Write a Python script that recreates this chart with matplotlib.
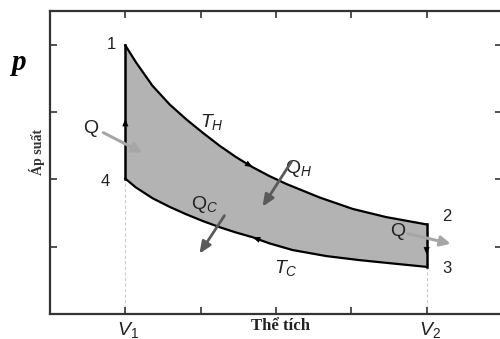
import matplotlib
matplotlib.use("Agg")
import matplotlib.pyplot as plt
import numpy as np

plt.rcParams['font.family'] = ['Liberation Sans', 'DejaVu Sans']
plt.rcParams['mathtext.fontset'] = 'custom'
plt.rcParams['mathtext.it'] = 'Liberation Sans:italic'
plt.rcParams['mathtext.rm'] = 'Liberation Sans'

# Data (V and p in tick units)
v_hot = [1.0, 1.14, 1.36, 1.59, 1.81, 2.03, 2.25, 2.47, 2.69, 2.91, 3.14, 3.58, 4.02, 4.46, 5.0]
p_hot = [3.99, 3.74, 3.39, 3.11, 2.89, 2.69, 2.50, 2.33, 2.18, 2.05, 1.93, 1.73, 1.56, 1.44, 1.33]
v_cold = [1.0, 1.14, 1.36, 1.59, 1.81, 2.03, 2.25, 2.47, 2.69, 2.91, 3.22, 3.67, 4.11, 4.55, 5.0]
p_cold = [2.01, 1.88, 1.72, 1.59, 1.48, 1.38, 1.29, 1.21, 1.14, 1.05, 0.95, 0.86, 0.80, 0.75, 0.70]
x_ticks = [1, 2, 3, 4, 5]
y_ticks = [1, 2, 3, 4]
state_labels = ['1', '2', '3', '4']

fig = plt.figure(figsize=(5.0, 3.39), dpi=100)
ax = fig.add_axes([50/500, 1-314/339, 452/500, 303/339])
ax.set_xlim(0, 6)
ax.set_ylim(0, 4.5)

# Shaded cycle
poly_v = v_hot + v_cold[::-1]
poly_p = p_hot + p_cold[::-1]
ax.fill(poly_v, poly_p, color='#b3b3b3', zorder=1, lw=0)
ax.plot(v_hot, p_hot, color='black', lw=1.6, zorder=3, solid_joinstyle='round')
ax.plot(v_cold, p_cold, color='black', lw=1.6, zorder=3, solid_joinstyle='round')
ax.plot([v_hot[0], v_cold[0]], [p_hot[0], p_cold[0]], color='black', lw=1.8, zorder=3)
ax.plot([v_hot[-1], v_cold[-1]], [p_hot[-1], p_cold[-1]], color='black', lw=1.8, zorder=3)

# dashed guides
ax.plot([v_cold[0], v_cold[0]], [0, p_cold[0]], color='#cccccc', lw=0.8, ls=(0, (3, 2)), zorder=0)
ax.plot([v_cold[-1], v_cold[-1]], [0, p_cold[-1]], color='#cccccc', lw=0.8, ls=(0, (3, 2)), zorder=0)

def head(x0, y0, x1, y1):
    ax.annotate('', xy=(x1, y1), xytext=(x0, y0),
                arrowprops=dict(arrowstyle='-|>,head_length=0.55,head_width=0.22',
                                color='black', lw=0, shrinkA=0, shrinkB=0), zorder=4)

# direction arrows
head(v_cold[0], 2.7, v_cold[0], 2.9)
head(v_hot[7], p_hot[7], v_hot[8], p_hot[8])
head(v_cold[-1], 0.95, v_cold[-1], 0.88)
head(v_cold[9], p_cold[9], v_cold[8], p_cold[8])

def qarrow(x0, y0, x1, y1, color, lw, hl, hw):
    ax.annotate('', xy=(x1, y1), xytext=(x0, y0),
                arrowprops=dict(arrowstyle=f'-|>,head_length={hl},head_width={hw}',
                                color=color, lw=lw, shrinkA=0, shrinkB=0), zorder=5)

def px(x, y):
    return ((x - 50.75) / 75.25, (313.3 - y) / 67.3)

qarrow(*px(104, 132), *px(143, 152), '#a6a6a6', 2.2, 0.6, 0.3)
qarrow(*px(292, 161), *px(263, 206), '#5a5a5a', 2.0, 0.7, 0.3)
qarrow(*px(225, 215), *px(200, 253), '#5a5a5a', 2.0, 0.7, 0.3)
qarrow(*px(408, 233), *px(451, 243), '#a6a6a6', 2.2, 0.6, 0.3)

# labels
tc = '#222222'
ax.text(*px(92, 128), r'$\mathrm{Q}$', fontsize=14, ha='center', va='center', color=tc)
ax.text(*px(299, 168), r'$\mathrm{Q}_{H}$', fontsize=14, ha='center', va='center', color=tc)
ax.text(*px(205, 204), r'$\mathrm{Q}_{C}$', fontsize=14, ha='center', va='center', color=tc)
ax.text(*px(398, 231), r'$\mathrm{Q}$', fontsize=14, ha='center', va='center', color=tc)
ax.text(*px(212, 121), r'$T_{H}$', fontsize=14, ha='center', va='center', color=tc)
ax.text(*px(286, 267), r'$T_{C}$', fontsize=14, ha='center', va='center', color=tc)

ax.text(*px(112, 44), state_labels[0], fontsize=12, ha='center', va='center', color=tc)
ax.text(*px(447, 216), state_labels[1], fontsize=12, ha='center', va='center', color=tc)
ax.text(*px(447, 268), state_labels[2], fontsize=12, ha='center', va='center', color=tc)
ax.text(*px(106, 181), state_labels[3], fontsize=12, ha='center', va='center', color=tc)

ax.text(*px(129, 329), r'$V_{1}$', fontsize=14, ha='center', va='center', color=tc, clip_on=False)
ax.text(*px(430, 329), r'$V_{2}$', fontsize=14, ha='center', va='center', color=tc, clip_on=False)
ax.text(*px(281, 325), 'Thể tích', fontsize=12, fontweight='bold', family='Liberation Serif',
        ha='center', va='center', color=tc, clip_on=False)
fig.text(37/500, 1-152/339, 'Áp suất', rotation=90, fontsize=10, family='Liberation Serif',
         fontweight='bold', ha='center', va='center', color='#333')
fig.text(18/500, 1-62/339, 'p', fontsize=21, family='Liberation Serif', fontweight='bold',
         style='italic', ha='center', va='center', color='black')

# axes styling
ax.set_xticks(x_ticks)
ax.set_yticks(y_ticks)
ax.tick_params(direction='in', length=5, width=1.2, color='#333',
               top=True, right=True, labelbottom=False, labelleft=False)
for s in ax.spines.values():
    s.set_linewidth(1.6)
    s.set_color('#333')

fig.savefig('out.png', dpi=100)
